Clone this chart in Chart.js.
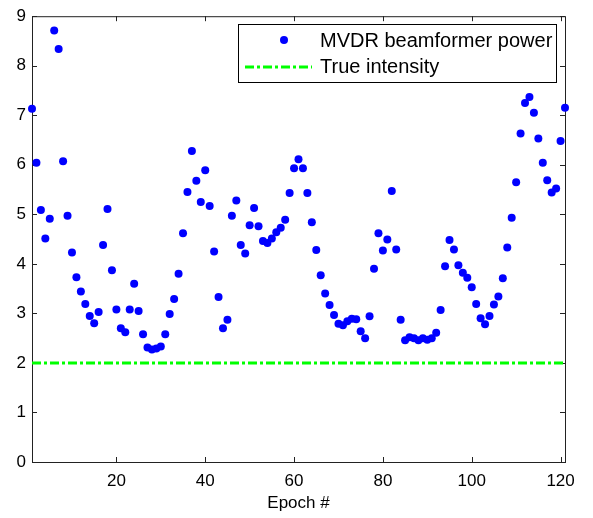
<!DOCTYPE html>
<html>
<head>
<meta charset="utf-8">
<script src="https://cdn.jsdelivr.net/npm/chart.js@4.4.0/dist/chart.umd.min.js"></script>
<style>
    html, body { margin: 0; padding: 0; background: #fff; }
</style>
</head>
<body>
<canvas id="scatter_chart" width="593" height="518"></canvas>
<script>
var epochs = [];
for (var i = 1; i <= 121; i++) epochs.push(i);

var mvdrPower = [
    7.13, 6.04, 5.09, 4.51, 4.91, 8.71, 8.34, 6.07, 4.97, 4.23,
    3.73, 3.44, 3.19, 2.95, 2.80, 3.03, 4.38, 5.11, 3.87, 3.08,
    2.70, 2.62, 3.08, 3.60, 3.05, 2.58, 2.31, 2.27, 2.29, 2.33,
    2.58, 2.99, 3.29, 3.80, 4.62, 5.45, 6.28, 5.68, 5.25, 5.89,
    5.17, 4.25, 3.33, 2.70, 2.87, 4.97, 5.28, 4.38, 4.21, 4.78,
    5.13, 4.76, 4.46, 4.42, 4.51, 4.64, 4.73, 4.89, 5.43, 5.93,
    6.11, 5.93, 5.43, 4.84, 4.28, 3.77, 3.40, 3.17, 2.97, 2.79,
    2.76, 2.84, 2.89, 2.88, 2.64, 2.50, 2.94, 3.90, 4.62, 4.27,
    4.49, 5.47, 4.29, 2.87, 2.46, 2.52, 2.50, 2.46, 2.50, 2.47,
    2.50, 2.61, 3.07, 3.95, 4.48, 4.29, 3.97, 3.82, 3.72, 3.53,
    3.19, 2.90, 2.78, 2.95, 3.18, 3.34, 3.71, 4.33, 4.93, 5.65,
    6.63, 7.25, 7.37, 7.05, 6.53, 6.04, 5.69, 5.44, 5.52, 6.48,
    7.15
];

var trueIntensity = 2;

var xTicks = [20, 40, 60, 80, 100, 120];
var yTicks = [0, 1, 2, 3, 4, 5, 6, 7, 8, 9];

var FONT = '"Liberation Sans", Arial, sans-serif';
var DASH = [9, 3, 3, 3];

// matlab style box with inward ticks
var axesBox = {
    id: 'axesBox',
    beforeDatasetsDraw: function (chart) {
        var ctx = chart.ctx, a = chart.chartArea;
        var xs = chart.scales.x, ys = chart.scales.y;
        ctx.save();
        ctx.strokeStyle = '#222';
        ctx.lineWidth = 1;
        ctx.strokeRect(a.left + 0.5, a.top + 0.5, a.right - a.left, a.bottom - a.top);
        ctx.beginPath();
        xTicks.forEach(function (v) {
            var px = Math.round(xs.getPixelForValue(v)) + 0.5;
            ctx.moveTo(px, a.bottom); ctx.lineTo(px, a.bottom - 5);
            ctx.moveTo(px, a.top); ctx.lineTo(px, a.top + 5);
        });
        yTicks.forEach(function (v) {
            var py = Math.round(ys.getPixelForValue(v)) + 0.5;
            ctx.moveTo(a.left, py); ctx.lineTo(a.left + 5, py);
            ctx.moveTo(a.right, py); ctx.lineTo(a.right - 5, py);
        });
        ctx.stroke();
        ctx.restore();
    }
};

var boxLegend = {
    id: 'boxLegend',
    afterDraw: function (chart) {
        var ctx = chart.ctx;
        var ds = chart.data.datasets;
        ctx.save();
        ctx.fillStyle = '#fff';
        ctx.strokeStyle = '#000';
        ctx.lineWidth = 1;
        ctx.fillRect(238.5, 24.5, 318, 58);
        ctx.strokeRect(238.5, 24.5, 318, 58);

        ctx.fillStyle = ds[0].backgroundColor;
        ctx.beginPath();
        ctx.arc(284, 40, 4, 0, Math.PI * 2);
        ctx.fill();

        ctx.strokeStyle = ds[1].borderColor;
        ctx.lineWidth = 3;
        ctx.setLineDash(DASH);
        ctx.beginPath();
        ctx.moveTo(245, 67); ctx.lineTo(312, 67);
        ctx.stroke();
        ctx.setLineDash([]);

        ctx.fillStyle = '#000';
        ctx.font = '20px ' + FONT;
        ctx.textBaseline = 'middle';
        ctx.fillText(ds[0].label, 320, 41);
        ctx.fillText(ds[1].label, 320, 67);
        ctx.restore();
    }
};

var points = epochs.map(function (e, k) { return { x: e, y: mvdrPower[k] }; });
var trueLine = [
    { x: epochs[0], y: trueIntensity },
    { x: epochs[epochs.length - 1], y: trueIntensity }
];

new Chart(document.getElementById('scatter_chart').getContext('2d'), {
    type: 'scatter',
    data: {
        datasets: [{
            label: 'MVDR beamformer power',
            data: points,
            backgroundColor: '#0000ff',
            borderWidth: 0,
            pointRadius: 4,
            clip: false
        }, {
            type: 'line',
            label: 'True intensity',
            data: trueLine,
            borderColor: '#00ff00',
            borderWidth: 3,
            borderDash: DASH,
            pointRadius: 0,
            fill: false
        }]
    },
    options: {
        responsive: false,
        animation: false,
        layout: { padding: { left: 0, right: 28, top: 15, bottom: 0 } },
        plugins: { legend: { display: false }, tooltip: { enabled: false } },
        scales: {
            x: {
                type: 'linear',
                min: 1,
                max: 121,
                afterBuildTicks: function (s) { s.ticks = xTicks.map(function (v) { return { value: v }; }); },
                afterFit: function (s) { s.height = 56; },
                grid: { display: false, drawTicks: false },
                border: { display: false },
                ticks: { color: '#000', font: { family: FONT, size: 17 }, padding: 9, maxRotation: 0 },
                title: {
                    display: true,
                    text: 'Epoch #',
                    color: '#000',
                    font: { family: FONT, size: 17 },
                    padding: { top: 0, bottom: 4 }
                }
            },
            y: {
                min: 0,
                max: 9,
                afterBuildTicks: function (s) { s.ticks = yTicks.map(function (v) { return { value: v }; }); },
                afterFit: function (s) { s.width = 32; },
                grid: { display: false, drawTicks: false },
                border: { display: false },
                ticks: { color: '#000', font: { family: FONT, size: 17 }, padding: 6 }
            }
        }
    },
    plugins: [axesBox, boxLegend]
});
</script>
</body>
</html>
